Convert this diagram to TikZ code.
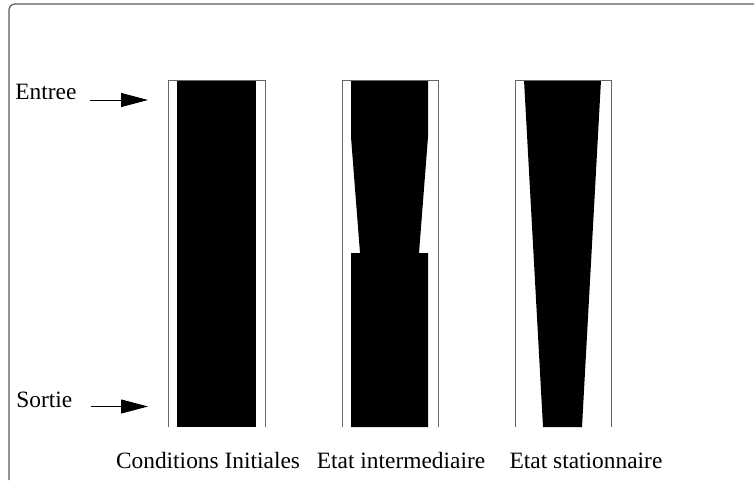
\documentclass[tikz,border=0pt]{standalone}
\usepackage{fontspec}
\setmainfont{Liberation Serif}
\usetikzlibrary{arrows.meta}
\begin{document}
\begin{tikzpicture}[x=0.5pt, y=-0.5pt, font=\fontsize{11.7}{14}\selectfont,
    paroi/.style={draw=black!60, line width=0.5pt},
    depot/.style={fill=black, draw=none},
    fleche/.style={-{Triangle[length=13.5pt, width=7pt]}, line width=0.5pt}]
    \useasboundingbox (0,0) rectangle (754,482);

    % Cadre (haut et gauche seulement)
    \draw[draw=black!65, line width=0.6pt, rounded corners=3pt] (9,480) -- (9,4) -- (754,4);

    % Hauteurs communes
    \def\yh{80}
    \def\yb{427}

    % Conditions initiales
    \fill[depot] (177,\yh) rectangle (256,\yb);
    \draw[paroi] (168,\yb) -- (168,\yh) -- (265,\yh) -- (265,\yb);

    % Etat intermediaire
    \def\ycol{253}
    \fill[depot] (351,\yh) -- (428,\yh) -- (428,137) -- (419,\ycol) -- (428,\ycol) -- (428,\yb)
        -- (351,\yb) -- (351,\ycol) -- (360,\ycol) -- (351,137) -- cycle;
    \draw[paroi] (342,\yb) -- (342,\yh) -- (438,\yh) -- (438,\yb);

    % Etat stationnaire
    \fill[depot] (524,\yh) -- (601,\yh) -- (582,\yb) -- (543,\yb) -- cycle;
    \draw[paroi] (515,\yb) -- (515,\yh) -- (611,\yh) -- (611,\yb);

    % Entree / Sortie
    \node[anchor=base west, inner sep=0pt] (entree) at (15,99) {Entree};
    \node[anchor=base west, inner sep=0pt] (sortie) at (16,407) {Sortie};
    \coordinate (entreeA) at (90,100);
    \coordinate (entreeB) at (148,100);
    \coordinate (sortieA) at (91,406.5);
    \coordinate (sortieB) at (148,406.5);
    \draw[fleche] (entreeA) -- (entreeB);
    \draw[fleche] (sortieA) -- (sortieB);

    % Legendes
    \node[anchor=base] (lgInit) at (208,468) {Conditions Initiales};
    \node[anchor=base] (lgInter) at (401,468) {Etat intermediaire};
    \node[anchor=base] (lgStat) at (586,468) {Etat stationnaire};
\end{tikzpicture}
\end{document}
